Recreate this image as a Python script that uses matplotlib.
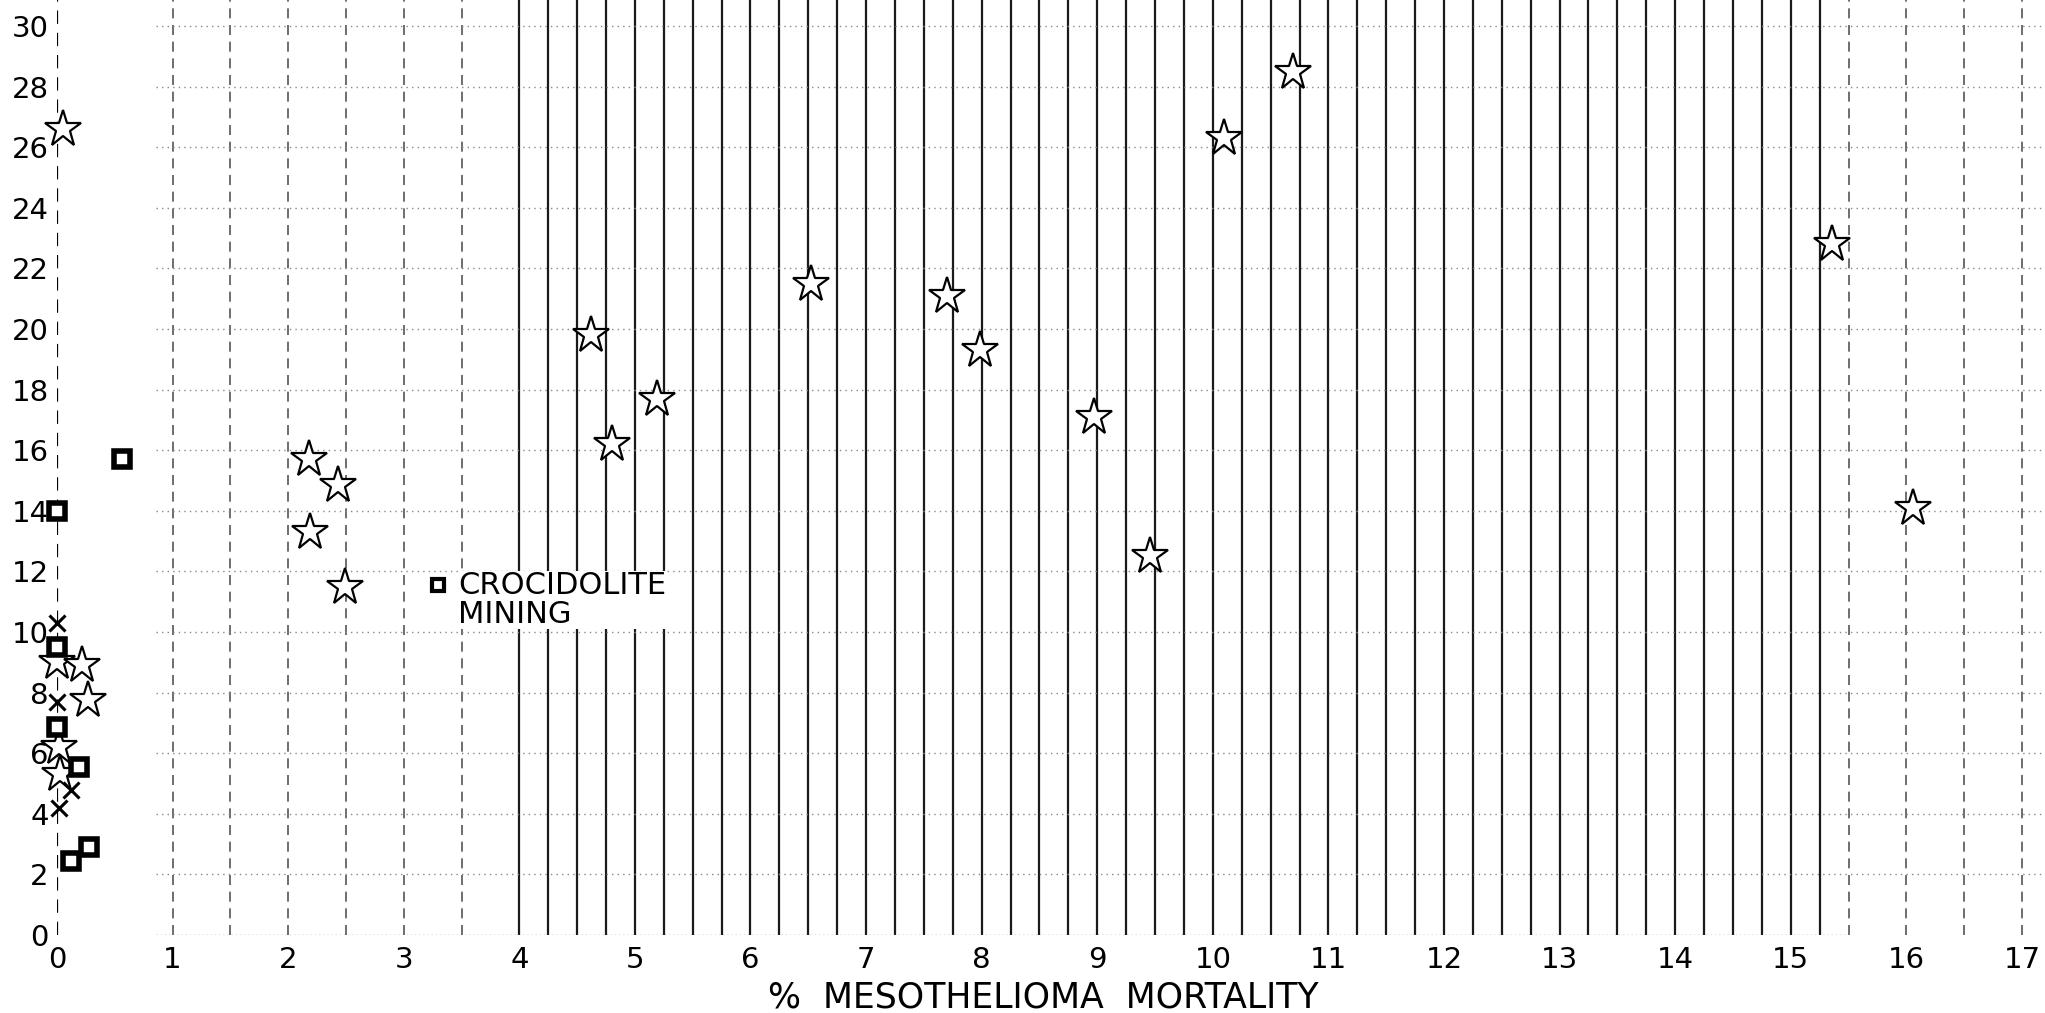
import numpy as np
import matplotlib
matplotlib.use("Agg")
import matplotlib.pyplot as plt

# asbestos exposure groups
star_x = [0.05, 0.0, 0.22, 0.27, 0.02, 0.03, 2.18, 2.43, 2.19, 2.49, 4.62, 4.80,
          5.19, 6.52, 7.70, 7.99, 8.97, 9.46, 10.10, 10.69, 15.36, 16.06]
star_y = [26.6, 9.0, 8.9, 7.75, 6.2, 5.3, 15.7, 14.85, 13.3, 11.5, 19.8, 16.2,
          17.7, 21.5, 21.1, 19.3, 17.1, 12.5, 26.3, 28.5, 22.8, 14.1]

cross_x = [0.0, 0.0, 0.12, 0.02]
cross_y = [10.3, 7.7, 4.8, 4.2]

croc_x = [0.0, 0.56, 0.0, 0.0, 0.19, 0.12, 0.28]
croc_y = [14.0, 15.7, 9.5, 6.85, 5.55, 2.45, 2.9]

xticks = list(range(0, 18))
yticks = list(range(0, 31, 2))

fig = plt.figure(figsize=(20.45, 10.13), dpi=100)
ax = fig.add_axes([57 / 2045, 78 / 1013, 1 - 57 / 2045, 1 - 78 / 1013])
ax.set_xlim(0, 17.2)
ax.set_ylim(0, 30.86)

# graph paper lines from the scan
for gx in np.arange(4.0, 15.3, 0.25):
    ax.axvline(gx, color="#1a1a1a", lw=1.6, zorder=1)
for gx in [1.0, 1.5, 2.0, 2.5, 3.0, 3.5, 15.5, 16.0, 16.5, 17.0]:
    ax.axvline(gx, color="#555555", lw=1.2, ls=(0, (6, 4)), zorder=1)
for gy in yticks[1:]:
    ax.axhline(gy, xmin=0.05, color="#888888", lw=1.0, ls=(0, (1, 3)), zorder=1)
ax.axhline(0, xmin=0.05, xmax=0.9, color="#666666", lw=1.0, ls=(0, (1, 2)), zorder=1)
ax.axvline(0, color="black", lw=1.6, ls=(0, (6, 4)), zorder=1)

ax.plot(star_x, star_y, ls="none", marker="*", ms=28, mfc="white", mec="black",
        mew=1.6, zorder=3, clip_on=False)
ax.plot(cross_x, cross_y, ls="none", marker="x", ms=11, mec="black", mew=2.2,
        zorder=3, clip_on=False)
ax.plot(croc_x, croc_y, ls="none", marker="s", ms=11, mfc="white", mec="black",
        mew=4, zorder=4, clip_on=False)

# legend-ish note in the plot
ax.plot([3.30], [11.55], ls="none", marker="s", ms=9, mfc="white", mec="black",
        mew=3, zorder=4)
ax.text(3.47, 11.05, "CROCIDOLITE\nMINING", fontsize=22, va="center", ha="left",
        linespacing=1.0, zorder=5,
        bbox=dict(facecolor="white", edgecolor="none", pad=0))

ax.set_xticks(xticks)
ax.set_yticks(yticks)
ax.tick_params(length=0, labelsize=21)
ax.tick_params(axis="y", pad=6)
ax.tick_params(axis="x", pad=8)
for s in ax.spines.values():
    s.set_visible(False)

fig.text(1043 / 2045, 1 - 997 / 1013, "%  MESOTHELIOMA  MORTALITY", fontsize=25,
         ha="center", va="center")

fig.savefig("out.png", dpi=100)
